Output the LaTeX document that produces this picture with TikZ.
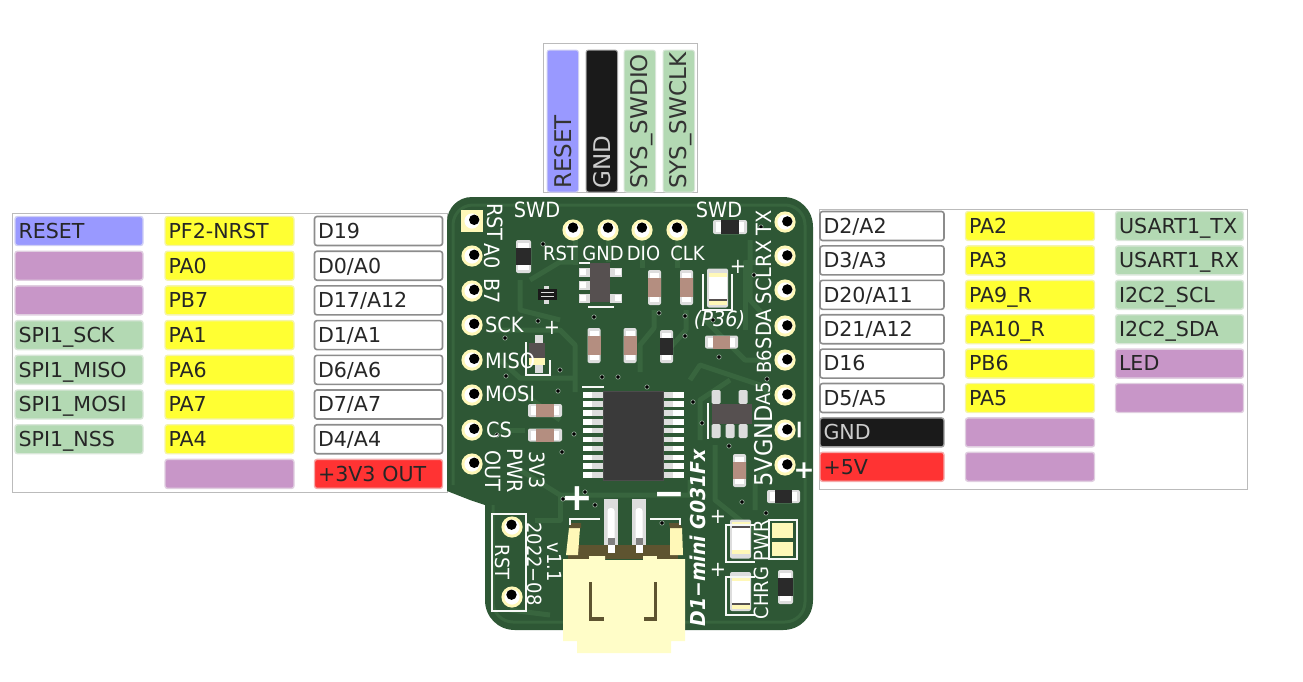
\documentclass[tikz,border=0pt]{standalone}
\usepackage{fontspec}
\setmainfont{DejaVu Sans}
\newfontfamily\silkf[FakeStretch=0.92]{DejaVu Sans}
\definecolor{cpurple}{HTML}{C896C8}
\definecolor{cblue}{HTML}{9999FF}
\definecolor{cgreen}{HTML}{B3D9B3}
\definecolor{cyellow}{HTML}{FFFF33}
\definecolor{cblack}{HTML}{1A1A1A}
\definecolor{cred}{HTML}{FF3333}
\definecolor{cwhite}{HTML}{FFFFFF}
\definecolor{pcb}{HTML}{2E5735}
\definecolor{trk}{HTML}{38653E}
\definecolor{ringc}{HTML}{FFF8B8}
\definecolor{jst}{HTML}{FFFDC8}
\definecolor{olive}{HTML}{5E5430}
\definecolor{resb}{HTML}{B48E80}
\definecolor{padg}{HTML}{DDDDDD}
\definecolor{icb}{HTML}{3A3A3A}
\definecolor{sotb}{HTML}{565050}
\definecolor{frmc}{HTML}{BBBBBB}
\definecolor{silkc}{HTML}{F6F8F6}
\definecolor{blk}{HTML}{2A2A2A}
\definecolor{viar}{HTML}{A0B4A4}
\tikzset{
 cellbox/.style={rounded corners=2.5pt,draw=#1!80!gray!45!white,line width=1.4pt,fill=#1,inner xsep=3.5pt,inner ysep=0pt,
   minimum height=29pt,font=\fontsize{20.6}{20.6}\selectfont,text=black!85,align=left,text height=17pt,text depth=2.4pt},
 wcell/.style={cellbox=cwhite,draw=black!45,line width=1.6pt},
 topcell/.style={rounded corners=2.5pt,fill=#1,draw=#1!80!gray!45!white,line width=1pt},
 silk/.style={text=white,inner sep=0pt,font=\silkf\fontsize{21}{21}\selectfont},
 silkbig/.style={text=white,inner sep=0pt,font=\silkf\fontsize{24.5}{24.5}\selectfont},
 silksmall/.style={text=white,inner sep=0pt,font=\silkf\fontsize{19.5}{19.5}\selectfont},
 silkbold/.style={text=white,inner sep=0pt,font=\fontsize{#1}{#1}\selectfont\bfseries},
 silkline/.style={draw=silkc,line width=1.1pt},
 trace/.style={draw=trk,line width=5pt,line join=round},
 viahole/.style={fill=black,draw=viar,line width=0.6pt},
}
\newcommand{\pcbpad}[4]{%
 \fill[ringc] (#1,#2) circle (10.6pt);
 \fill[white] (#1,#2) circle (7.6pt);
 \fill[black] (#1+#3,#2+#4) circle (5.2pt);}
\newcommand{\vpart}[5]{%
 \fill[padg,rounded corners=2pt] (#1-#3/2,#2-#4/2) rectangle (#1+#3/2,#2+#4/2);
 \fill[white] (#1-#3/2+2,#2-#4/2+3) rectangle (#1+#3/2-2,#2+#4/2-3);
 \fill[#5] (#1-#3/2,#2-#4*0.26) rectangle (#1+#3/2,#2+#4*0.26);}
\newcommand{\hpart}[5]{%
 \fill[padg,rounded corners=2pt] (#1-#3/2,#2-#4/2) rectangle (#1+#3/2,#2+#4/2);
 \fill[white] (#1-#3/2+3,#2-#4/2+2) rectangle (#1+#3/2-3,#2+#4/2-2);
 \fill[#5] (#1-#3*0.26,#2-#4/2) rectangle (#1+#3*0.26,#2+#4/2);}
\newcommand{\ledpart}[3]{%
 \fill[padg,rounded corners=2pt] (#1-10.5,#2-19.5) rectangle (#1+10.5,#2+19.5);
 \fill[white] (#1-9,#2-12) rectangle (#1+9,#2+12);
 \fill[ringc] (#1-9,#2+#3*13) rectangle (#1+9,#2+#3*17);
 \fill[sotb] (#1-9,#2+#3*11) rectangle (#1+9,#2+#3*13);
 \fill[ringc] (#1-9,#2-#3*11) rectangle (#1+9,#2-#3*15);}
\newcommand{\viadot}[2]{\fill[viahole] (#1,#2) circle (2.2pt);}
\begin{document}
\begin{tikzpicture}[x=1pt,y=-1pt]
\useasboundingbox (0,0) rectangle (1303,681);
\draw[frmc,line width=1pt] (12.5,213.5) rectangle (447,492);
\draw[frmc,line width=1pt] (819,209.5) rectangle (1247.5,489);
\draw[frmc,line width=1pt] (543,43.5) rectangle (697,192);
\foreach \tx/\cc [count=\i] in {RESET/cblue,/cpurple,/cpurple,SPI1\_SCK/cgreen,SPI1\_MISO/cgreen,SPI1\_MOSI/cgreen,SPI1\_NSS/cgreen}
 \node[cellbox=\cc,text width=121pt] (la\i) at (79,{231+(\i-1)*34.7}) {\tx};
\foreach \tx/\cc [count=\i] in {PF2-NRST/cyellow,PA0/cyellow,PB7/cyellow,PA1/cyellow,PA6/cyellow,PA7/cyellow,PA4/cyellow,/cpurple}
 \node[cellbox=\cc,text width=122pt] (lb\i) at (229.5,{231+(\i-1)*34.7}) {\tx};
\foreach \tx [count=\i] in {D19,D0/A0,D17/A12,D1/A1,D6/A6,D7/A7,D4/A4}
 \node[wcell,text width=121pt] (lc\i) at (378.5,{231+(\i-1)*34.7}) {\tx};
\node[cellbox=cred,text width=121pt] (lc8) at (378.5,473.9) {+3V3 OUT};
\foreach \tx [count=\i] in {D2/A2,D3/A3,D20/A11,D21/A12,D16,D5/A5}
 \node[wcell,text width=117pt] (ra\i) at (882,{226+(\i-1)*34.4}) {\tx};
\node[cellbox=cblack,text width=117pt,text=white!80!black] (ra7) at (882,432.4) {GND};
\node[cellbox=cred,text width=117pt] (ra8) at (882,466.8) {+5V};
\foreach \tx/\cc [count=\i] in {PA2/cyellow,PA3/cyellow,PA9\_R/cyellow,PA10\_R/cyellow,PB6/cyellow,PA5/cyellow,/cpurple,/cpurple}
 \node[cellbox=\cc,text width=122pt] (rb\i) at (1030,{226+(\i-1)*34.4}) {\tx};
\foreach \tx/\cc [count=\i] in {USART1\_TX/cgreen,USART1\_RX/cgreen,I2C2\_SCL/cgreen,I2C2\_SDA/cgreen,LED/cpurple,/cpurple}
 \node[cellbox=\cc,text width=121pt] (rc\i) at (1179.5,{226+(\i-1)*34.4}) {\tx};
\foreach \xx/\cc in {547/cblue,586/cblack,624/cgreen,663/cgreen}
 \fill[topcell=\cc] (\xx,50) -- (\xx,192) -- (\xx+31.5,192) -- (\xx+31.5,50) -- cycle;
\foreach \xx/\tx/\cc [count=\i] in {563/RESET/black!80,602.5/GND/white!80!black,641.5/SYS\_SWDIO/black!80,680.5/SYS\_SWCLK/black!80}
 \node[rotate=90,anchor=west,inner sep=0pt,text=\cc,font=\fontsize{23}{23}\selectfont] (tp\i) at (\xx,189) {\tx};
% board
\fill[pcb] (472,197) -- (783,197) .. controls (800,197) and (813,210) .. (813,227)
 -- (813,600) .. controls (813,617) and (800,630) .. (783,630)
 -- (515,630) .. controls (498,630) and (485,617) .. (485,600)
 -- (485,505) -- (470,500) -- (447,491) -- (447,222) .. controls (447,208) and (458,197) .. (472,197) -- cycle;
\draw[draw=trk,line width=3pt,rounded corners=20pt] (453,485) -- (453,205) -- (805,205) -- (805,622) -- (493,622) -- (493,505);
\draw[trace] (530,280)--(560,262)--(578,262);
\draw[trace] (495,330)--(560,330)--(575,345)--(575,392);
\draw[trace] (575,240)--(575,265);
\draw[trace] (608,240)--(608,262);
\draw[trace] (642,240)--(642,268);
\draw[trace] (677,240)--(677,268);
\draw[trace] (654,310)--(654,328)--(640,345)--(640,372);
\draw[trace] (686,310)--(686,330)--(668,350);
\draw[trace] (500,360)--(520,378)--(575,378);
\draw[trace] (500,395)--(525,395)--(560,420);
\draw[trace] (500,430)--(525,430);
\draw[trace] (750,240)--(750,300)--(770,322);
\draw[trace] (770,262)--(745,262)--(745,330);
\draw[trace] (770,360)--(745,360)--(700,315);
\draw[trace] (770,395)--(760,385)--(700,365)--(690,380);
\draw[trace] (690,480)--(690,495)--(560,495)--(520,470);
\draw[trace] (715,445)--(715,500)--(765,540);
\draw[trace] (770,465)--(755,480)--(755,510);
\draw[trace] (535,520)--(560,520)--(560,495);
\draw[trace] (510,610)--(550,615);
\draw[trace] (700,440)--(700,400)--(730,380);
\draw[trace] (520,280)--(520,310)--(560,320);
\fill[ringc] (461,210) rectangle (483,232);
\fill[white] (472,221) circle (7.6pt);
\fill[black] (474.2,219.8) circle (5.2pt);
\foreach \yy in {256,291,325,360,395,430,464} {\pcbpad{472}{\yy}{2.2}{-1.2}}
\foreach \yy in {222,256,290,326,360,395,430,465} {\pcbpad{785}{\yy}{2.3}{-0.6}}
\foreach \xx in {573,608,642,677} {\pcbpad{\xx}{230}{0}{-2.4}}
\foreach \yy in {527,597} {\pcbpad{512}{\yy}{-0.5}{-2.3}}
\foreach \xx/\yy in {543/244,538/321,505/338,594/317,659/313,685/316,685/336,713/320,506/376,560/370,558/391,602/377,618/377,574/434,562/452,497/435,719/357,767/379,693/402,702/423,729/446,697/455,647/387,563/499,585/492,595/505,662/523,742/502,766/513,761/227,754/275}
 {\viadot{\xx}{\yy}}
\vpart{523.5}{256.5}{15}{33}{blk}
\hpart{730}{227}{34}{14}{blk}
\vpart{654.5}{287.5}{13}{35}{resb}
\vpart{686.5}{287.5}{13}{35}{resb}
\vpart{594}{345.5}{13}{35}{resb}
\vpart{630}{345.5}{13}{35}{resb}
\vpart{666.5}{346.5}{13}{33}{blk}
\hpart{721.5}{342}{33}{13}{resb}
\hpart{545}{410.5}{34}{13}{resb}
\hpart{545}{435}{34}{13}{resb}
\vpart{739.5}{470.5}{13}{33}{resb}
\hpart{783.5}{496.5}{33}{13}{blk}
\vpart{785.5}{587}{15}{34}{blk}
\fill[padg] (544,286) rectangle (549,304);
\fill[cblack] (538,289) rectangle (557,300);
\draw[padg,line width=0.7pt] (541,292) -- (554,292);
\draw[padg,line width=0.7pt] (541,296) -- (554,296);
\fill[padg] (535,335) rectangle (543,373);
\fill[sotb] (529,343) rectangle (545,359);
\fill[ringc] (529,358) rectangle (545,365);
\draw[silkline] (526,342) -- (526,375) -- (550,375) -- (550,360);
\ledpart{717.5}{288}{1}
\ledpart{740.5}{539}{-1}
\ledpart{740.5}{591.5}{1}
\draw[silkline] (703,274) -- (703,310) -- (732,310) -- (732,274);
\draw[silkline] (755,525) -- (726,525) -- (726,562) -- (755,562);
\draw[silkline] (755,577) -- (726,577) -- (726,615) -- (755,615);
\fill[ringc] (772,523) rectangle (793,538);
\fill[ringc] (772,542) rectangle (793,556);
\draw[silkline] (769,520) rectangle (797,559);
\foreach \yy in {272,285,298} {\fill[padg] (579,\yy-4.5) rectangle (590,\yy+4.5); \fill[white] (580,\yy-3) rectangle (586,\yy+3);}
\foreach \yy in {272,298} {\fill[padg] (610,\yy-4.5) rectangle (622,\yy+4.5); \fill[white] (615,\yy-3) rectangle (621,\yy+3);}
\fill[sotb] (590,263) rectangle (610,302);
\draw[silkline] (579,263) -- (590,263);
\draw[silkline] (588,307) -- (614,307);
\foreach \xx in {716,743} {\fill[padg,rounded corners=1.5pt] (\xx-4.5,390) rectangle (\xx+4.5,404);}
\foreach \xx in {716,730,743} {\fill[padg,rounded corners=1.5pt] (\xx-4.5,424) rectangle (\xx+4.5,438);}
\fill[sotb] (712,404) rectangle (752,424);
\draw[silkline] (708,403) -- (708,439);
\foreach \yy in {392.2,401.1,410,418.9,427.8,436.7,445.6,454.5,463.4,472.3} {
 \fill[padg] (583,\yy) rectangle (604,\yy+5.6);
 \fill[white] (583,\yy) rectangle (592,\yy+5.6);
 \fill[padg] (662,\yy) rectangle (684,\yy+5.6);
 \fill[white] (673,\yy) rectangle (684,\yy+5.6);
}
\fill[icb] (603,391) rectangle (663,480);
\draw[black!70,line width=1pt] (603,391) rectangle (663,480);
\draw[silkline] (582,387) -- (604,387);
\foreach \xx in {604,632} {
 \fill[padg] (\xx,499) rectangle (\xx+14,545);
 \fill[white,rounded corners=3pt] (\xx+3.5,508) rectangle (\xx+10.5,542);
 \fill[gray] (\xx+3.5,538) rectangle (\xx+10.5,545);
}
\fill[olive] (570,545) rectangle (604,559);
\fill[olive] (618,545) rectangle (632,559);
\fill[olive] (646,545) rectangle (678,559);
\foreach \xx in {604,632} {\fill[olive] (\xx,545) rectangle (\xx+14,559); \fill[white] (\xx+3.5,545) rectangle (\xx+10.5,553);}
\fill[jst] (563,559) -- (589,559) -- (589,556) -- (605,556) -- (605,560) -- (643,560) -- (643,556) -- (657,556) -- (657,559) -- (685,559)
 -- (685,641) -- (671,641) -- (671,653) -- (577,653) -- (577,641) -- (563,641) -- cycle;
\fill[olive] (568,555) rectangle (589,559);
\fill[olive] (657,555) rectangle (678,559);
\fill[olive] (589,582) rectangle (592,621);
\fill[olive] (589,617) rectangle (604,621);
\fill[olive] (654,582) rectangle (657,621);
\fill[olive] (644,617) rectangle (657,621);
\fill[ringc] (569,528) -- (580,528) -- (578,555) -- (566,555) -- cycle;
\fill[ringc] (670,528) -- (682,528) -- (683,555) -- (670,555) -- cycle;
\fill[olive] (571,523) -- (581,523) -- (581,528) -- (569,528) -- cycle;
\fill[olive] (669,523) -- (679,523) -- (682,528) -- (670,528) -- cycle;
\draw[silkline] (570,525) -- (570,519) -- (600,519);
\draw[silkline] (650,519) -- (680,519) -- (680,525);
\node[silk] (s1) at (537,209.5) {SWD};
\node[silk] (s2) at (719,209.5) {SWD};
\node[silksmall] (s3) at (560.5,253) {RST};
\node[silksmall] (s4) at (603,253) {GND};
\node[silksmall] (s5) at (643.5,253) {DIO};
\node[silksmall] (s6) at (687.5,253) {CLK};
\node[silk,rotate=-90] (s7) at (495,222) {RST};
\node[silk,rotate=-90] (s8) at (492,256.5) {A0};
\node[silk,rotate=-90] (s9) at (492,291.5) {B7};
\node[silk,anchor=west] (s10) at (485,325) {SCK};
\node[silk,anchor=west] (s11) at (485,361) {MISO};
\node[silk,anchor=west] (s12) at (485,394) {MOSI};
\node[silk,anchor=west] (s13) at (486,430) {CS};
\node[silk,rotate=-90] (s14) at (493,471) {OUT};
\node[silk,rotate=-90] (s15) at (515,471) {PWR};
\node[silk,rotate=-90] (s16) at (537,470) {3V3};
\node[silk,rotate=90] (s17) at (764,223) {TX};
\node[silk,rotate=90] (s18) at (764,254) {RX};
\node[silk,rotate=90] (s19) at (764,286) {SCL};
\node[silk,rotate=90] (s20) at (764,329) {SDA};
\node[silksmall,rotate=90] (s21) at (764,362) {B6};
\node[silksmall,rotate=90] (s22) at (764,394) {A5};
\node[silkbig,rotate=90] (s23) at (764,431) {GND};
\node[silkbig,rotate=90] (s24) at (764,472) {5V};
\node[silk] (s25) at (552,328) {+};
\node[silk] (s26) at (738,267) {+};
\node[silk] (s27) at (718,517) {+};
\node[silk] (s28) at (718,570) {+};
\node[silk,font=\silkf\fontsize{21}{21}\selectfont\itshape] (s29) at (719.5,320) {(P36)};
\node[silksmall,rotate=90] (s30) at (761,541) {PWR};
\node[silksmall,rotate=90] (s31) at (761,593) {CHRG};
\node[silk,rotate=90,font=\silkf\fontsize{20.5}{20.5}\selectfont\bfseries\itshape] (s32) at (698,538) {D1−mini G031Fx};
\node[silksmall,rotate=-90] (s33) at (535,564) {2022−08};
\node[silksmall,rotate=-90] (s34) at (555,562) {v1.1};
\node[silksmall,rotate=-90] (s35) at (503,562) {RST};
\node[silkbold=38] (s36) at (577,499) {+};
\node[silkbold=38] (s37) at (669,499) {−};
\node[silkbold=25] (s38) at (804,471) {+};
\node[silkbold=25,rotate=90] (s39) at (803,430) {−};
\draw[silkline] (492,514) rectangle (526,611);
\end{tikzpicture}
\end{document}
